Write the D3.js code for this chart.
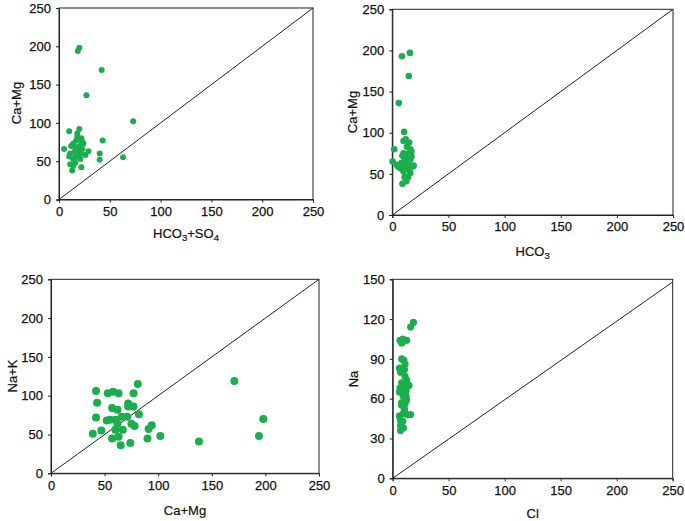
<!DOCTYPE html>
<html>
<head>
<meta charset="utf-8">
<script src="https://cdn.jsdelivr.net/npm/d3@7"></script>
<style>
  html, body { margin: 0; padding: 0; background: #fff; }
  svg text { font-family: "Liberation Sans", Arial, sans-serif; }
</style>
</head>
<body>
<svg id="chart" width="685" height="521"></svg>
<script>
// ---- Data ----
// Panel 1: HCO3+SO4 (x) vs Ca+Mg (y)
const hco3so4_camg = [
  [20,198],[18.5,194],[42,169],[27,136],[73,102],[10,89],[20,92],[18,86],[43,77],[5,66],
  [29,63],[40,60],[40,52],[63,55],[11,46],[13,38],[22,42],[14,44],[14,73],[17,77],
  [22,80],[24,73],[11,60],[16,55],[19,64],[22,60],[21,53],[14,53],[26,58],[16,68],
  [12,70],[20,70],[23,66],[18,82],[23,75],[10,56],[16,48],[19,58],[21,78],[15,62]
];
// Panel 2: HCO3 (x) vs Ca+Mg (y)
const hco3_camg = [
  [8.6,193],[15.7,197],[14.7,169],[5.8,136],[10.5,101],[1.7,80],[0.3,65],[10,90],[15,88],[16,80],
  [10,75],[14,71],[18,59],[5,59],[7,57],[10,53],[13,63],[16,51],[9,38],[12.5,41],
  [14,46],[11,46],[8,63],[16,67],[11,67],[13,83],[17,77],[4,61],[19,60],[15,55],
  [12,58],[9,72],[13,74],[17,71],[12,92],[14,60]
];
// Panel 3: Ca+Mg (x) vs Na+K (y)
const camg_nak = [
  [171,119],[198,70],[194,48],[138,41],[102,48],[94,62],[90,45],[91,57],[81,115],[77,103],
  [74,39],[65,36],[39,51],[42,106],[43,91],[42,72],[47,55],[53,103],[58,105],[63,103],
  [57,84],[62,82],[55,69],[60,69],[66,73],[57,45],[63,47],[67,56],[72,90],[72,86],
  [77,86],[82,76],[75,64],[71,73],[62,64],[60,56],[52,68],[78,61]
];
// Panel 4: Cl (x) vs Na (y)
const cl_na = [
  [18.5,117.5],[16,114],[6.5,104],[12.5,104],[9,105],[8,90],[10,89],[6,83],[10.5,82],[11,86],
  [12.5,74],[8,72],[14.5,70],[6.5,68],[9.5,62],[12.5,59],[8,55],[16,48],[9.5,49],[7,44],
  [9.5,38],[7,36],[7,40],[10.5,52],[8.5,65],[6,65],[11,77],[12,66],[8,57],[6,47],
  [8,102],[7,80],[10,70],[12,62],[11,56],[13,48],[9,43]
];
// Tick values and axis titles
const ticks250 = [0, 50, 100, 150, 200, 250];
const ticks150 = [0, 30, 60, 90, 120, 150];
const xTitles = [["HCO", "3", "+SO", "4"], ["HCO", "3"], ["Ca+Mg"], ["Cl"]];
const yTitles = ["Ca+Mg", "Ca+Mg", "Na+K", "Na"];
// 1:1 reference line end points per panel (data units)
const refLines = [[[-2, -2], [250, 250]], [[0, 0], [250, 250]], [[0, 0], [250, 250]], [[0, 0], [250, 148]]];

const panels = [
  { data: hco3so4_camg, left: 59, right: 313, top: 8, bottom: 199.5, ymax: 250, yticks: ticks250, r: 3.0, xtY: 238, ytX: 16, ytY: 103 },
  { data: hco3_camg, left: 392.3, right: 673, top: 9.3, bottom: 215, ymax: 250, yticks: ticks250, r: 3.3, xtY: 256, ytX: 352, ytY: 112 },
  { data: camg_nak, left: 51, right: 319, top: 279.3, bottom: 473.3, ymax: 250, yticks: ticks250, r: 4.0, xtY: 515, ytX: 12, ytY: 376 },
  { data: cl_na, left: 392.7, right: 672.7, top: 279.3, bottom: 478.3, ymax: 150, yticks: ticks150, r: 3.6, xtY: 517.5, ytX: 353, ytY: 379 }
];

const svg = d3.select("#chart");
const green = "#1aaf4c";
const ink = "#111";

panels.forEach((p, i) => {
  const x = d3.scaleLinear().domain([0, 250]).range([p.left, p.right]);
  const y = d3.scaleLinear().domain([0, p.ymax]).range([p.bottom, p.top]);
  const g = svg.append("g");

  // frame
  g.append("rect")
    .attr("x", p.left).attr("y", p.top)
    .attr("width", p.right - p.left).attr("height", p.bottom - p.top)
    .attr("fill", "none").attr("stroke", "#222").attr("stroke-width", 1);

  // axes
  const xa = g.append("g").attr("transform", `translate(0,${p.bottom})`)
    .call(d3.axisBottom(x).tickValues(ticks250).tickSize(3).tickPadding(4).tickFormat(d3.format("d")));
  const ya = g.append("g").attr("transform", `translate(${p.left},0)`)
    .call(d3.axisLeft(y).tickValues(p.yticks).tickSize(3).tickPadding(5).tickFormat(d3.format("d")));
  [xa, ya].forEach(a => {
    a.select(".domain").attr("stroke", "#222");
    a.selectAll(".tick line").attr("stroke", "#222");
    a.selectAll(".tick text").attr("fill", ink).style("font-size", "13px")
      .attr("stroke", ink).attr("stroke-width", 0.25)
      .style("font-family", "'Liberation Sans', Arial, sans-serif");
  });

  // 1:1 line
  const rl = refLines[i];
  g.append("line")
    .attr("x1", x(rl[0][0])).attr("y1", y(rl[0][1]))
    .attr("x2", x(rl[1][0])).attr("y2", y(rl[1][1]))
    .attr("stroke", "#222").attr("stroke-width", 1);

  // points
  g.selectAll("circle.pt").data(p.data).enter().append("circle")
    .attr("class", "pt")
    .attr("cx", d => x(d[0])).attr("cy", d => y(d[1]))
    .attr("r", p.r).attr("fill", green);

  // x title
  const xt = g.append("text")
    .attr("x", (p.left + p.right) / 2).attr("y", p.xtY)
    .attr("text-anchor", "middle").attr("fill", ink)
    .attr("stroke", ink).attr("stroke-width", 0.2)
    .style("font-size", "13px");
  xTitles[i].forEach((s, k) => {
    const t = xt.append("tspan").text(s);
    if (k % 2 === 1) t.attr("dy", 3).style("font-size", "9.5px");
    else if (k > 0) t.attr("dy", -3);
  });

  // y title
  g.append("text")
    .attr("transform", `translate(${p.ytX},${p.ytY}) rotate(-90)`)
    .attr("text-anchor", "middle").attr("dy", "0.35em")
    .attr("fill", ink).attr("stroke", ink).attr("stroke-width", 0.2)
    .style("font-size", "13px")
    .text(yTitles[i]);
});
</script>
</body>
</html>
